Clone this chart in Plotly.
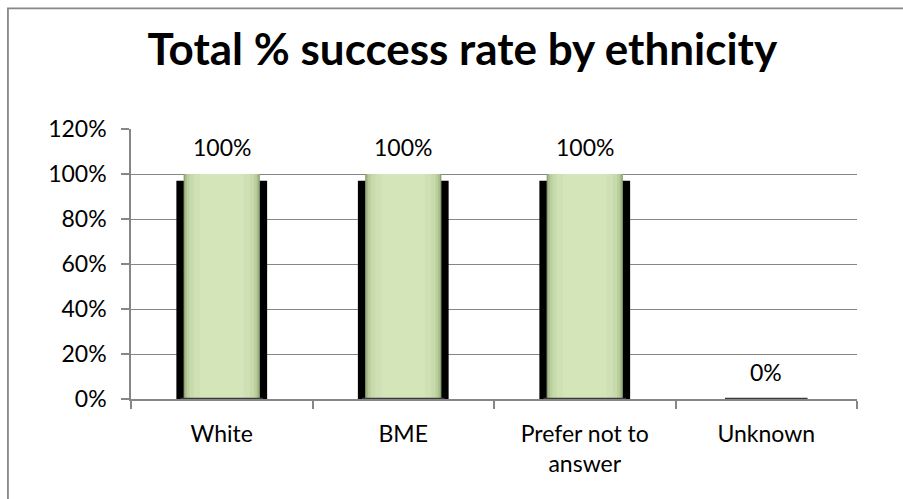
import plotly.graph_objects as go

# Success rate per ethnic group (fraction of 1)
categories = ["White", "BME", "Prefer not to<br>answer", "Unknown"]
success_rate = [1.0, 1.0, 1.0, 0.0]
y_ticks = [0, 0.2, 0.4, 0.6, 0.8, 1.0, 1.2]
y_tick_labels = ["0%", "20%", "40%", "60%", "80%", "100%", "120%"]

FONT = "Lato, 'Liberation Sans', sans-serif"
GRID = "#868686"

fig = go.Figure()

# Dark drop shadow behind each bar, shifted slightly downward
fig.add_trace(go.Bar(
    x=categories, y=success_rate, base=-0.03, width=0.50,
    marker=dict(color="#000000", line=dict(width=0)),
    hoverinfo="skip", showlegend=False,
))

# Green bar body, stacked layers to give a soft bevelled look
layers = [
    (0.42, "#8ea374"),
    (0.405, "#a9bd8c"),
    (0.385, "#bcd09f"),
    (0.355, "#c7daab"),
    (0.31, "#cfe1b4"),
    (0.24, "#d4e5ba"),
]
for w, col in layers:
    fig.add_trace(go.Bar(
        x=categories, y=success_rate, width=w,
        marker=dict(color=col, line=dict(width=0)),
        hoverinfo="skip", showlegend=False,
    ))

# Dark base edge of each bar (visible even for zero-height bars)
fig.add_trace(go.Scatter(
    x=categories, y=[0 for _ in categories], mode="markers",
    marker=dict(symbol="line-ew", size=59, line=dict(width=2.5, color="#3a3a3a")),
    cliponaxis=False, hoverinfo="skip", showlegend=False,
))

# Value labels above the bars
for cat, val in zip(categories, success_rate):
    fig.add_annotation(
        x=cat, y=val, text=f"{val:.0%}", showarrow=False,
        yanchor="middle", yshift=27,
        font=dict(family=FONT, size=23, color="#000000"),
    )

# Outer chart frame
fig.add_shape(
    type="rect", xref="paper", yref="paper",
    x0=-0.1695, x1=1.2, y0=-0.6, y1=1.447,
    line=dict(color="#878787", width=1.8), layer="below",
)

fig.update_layout(
    width=903, height=499,
    margin=dict(l=131, r=46, t=129, b=100, pad=0),
    barmode="overlay",
    paper_bgcolor="#ffffff", plot_bgcolor="#ffffff",
    title=dict(
        text="<b>Total % success rate by ethnicity</b>",
        x=0.512, xanchor="center", y=0.9, yanchor="middle",
        font=dict(family=FONT, size=44, color="#000000"),
    ),
    font=dict(family=FONT, size=23, color="#000000"),
    xaxis=dict(
        type="category", showgrid=False, showline=True, linecolor=GRID, linewidth=1.5,
        ticks="outside", tickson="boundaries", ticklen=8, tickcolor=GRID, tickwidth=1.5,
        tickfont=dict(family=FONT, size=23, color="#000000"),
        ticklabelstandoff=14,
        range=[-0.5, 3.5],
    ),
    yaxis=dict(
        range=[0, 1.2], tickvals=y_ticks, ticktext=y_tick_labels,
        showgrid=True, gridcolor=GRID, gridwidth=1.3,
        showline=True, linecolor=GRID, linewidth=1.5,
        ticks="outside", ticklen=8, tickcolor=GRID, tickwidth=1.5,
        tickfont=dict(family=FONT, size=23, color="#000000"),
        ticklabelstandoff=10,
        zeroline=False,
    ),
)

fig.write_html("out.html")
